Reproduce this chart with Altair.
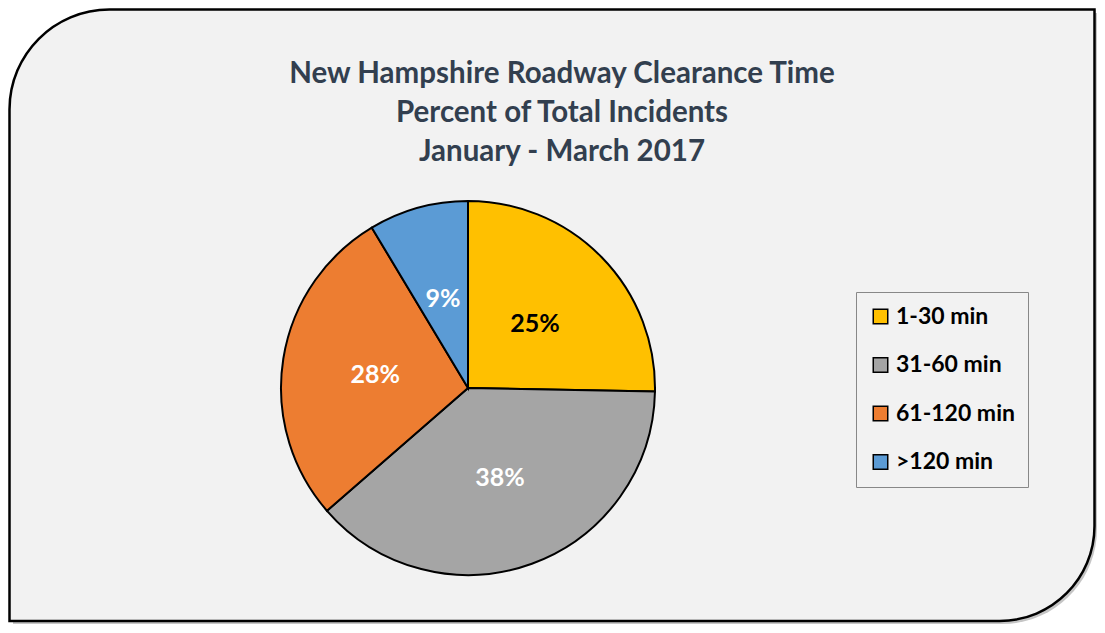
import altair as alt
import pandas as pd

categories = ["1-30 min", "31-60 min", "61-120 min", ">120 min"]
values = [25.3, 38.3, 27.8, 8.6]
slice_colors = ["#FFC000", "#A5A5A5", "#ED7D31", "#5B9BD5"]
label_colors = ["#000000", "#FFFFFF", "#FFFFFF", "#FFFFFF"]
title_lines = [
    "New Hampshire Roadway Clearance Time",
    "Percent of Total Incidents",
    "January - March 2017",
]

df = pd.DataFrame({
    "cat": categories,
    "val": values,
    "idx": list(range(len(categories))),
    "lbl": [f"{round(v)}%" for v in values],
    "lc": label_colors,
})

W, H = 1089, 616
CX, CY, R = 460, 380, 187
FONT = "Lato"

one = alt.Data(values=[{"a": 1}])

shadow = alt.Chart(one).mark_rect(
    fill="#7F7F7F", opacity=0.45,
    cornerRadiusTopLeft=100, cornerRadiusBottomRight=95,
).encode(x=alt.value(5), x2=alt.value(1089), y=alt.value(5), y2=alt.value(616))

panel = alt.Chart(one).mark_rect(
    fill="#F2F2F2", stroke="#000000", strokeWidth=2.5,
    cornerRadiusTopLeft=100, cornerRadiusBottomRight=95,
).encode(x=alt.value(1.5), x2=alt.value(1086.5), y=alt.value(1.5), y2=alt.value(613))

title = alt.Chart(one).mark_text(
    font=FONT, fontSize=29.5, fontWeight="bold", color="#323F4F",
    align="center", baseline="top", lineHeight=39, lineBreak="\n",
).encode(x=alt.value(554), y=alt.value(51.5), text=alt.value("\n".join(title_lines)))

base = alt.Chart(df).encode(
    theta=alt.Theta("val:Q", stack=True),
    order=alt.Order("idx:Q"),
)

pie = base.mark_arc(outerRadius=R, stroke="#000000", strokeWidth=2).encode(
    x=alt.value(CX), y=alt.value(CY),
    color=alt.Color(
        "cat:N",
        scale=alt.Scale(domain=categories, range=slice_colors),
        sort=categories,
        legend=alt.Legend(
            title=None, orient="none", legendX=848, legendY=284,
            symbolType="square", symbolSize=210, symbolStrokeColor="#000000",
            symbolStrokeWidth=1.5, symbolOpacity=1,
            labelFont=FONT, labelFontSize=23, labelFontWeight="bold",
            labelColor="#000000", labelOffset=4, rowPadding=24.5,
            padding=13, strokeColor="#888888", fillColor="#F2F2F2",
        ),
    ),
)

labels = base.mark_text(
    font=FONT, fontSize=25, fontWeight="bold", radius=94,
    align="center", baseline="middle", dy=2,
).encode(
    x=alt.value(CX), y=alt.value(CY),
    text="lbl:N",
    fill=alt.Fill("lc:N", scale=None),
)

chart = alt.layer(shadow, panel, title, pie, labels).properties(
    width=W, height=H, padding=0, autosize=alt.AutoSizeParams(type="none"),
).configure_view(stroke=None)

chart.save("out.html", embed_options={"renderer": "svg", "actions": False})
